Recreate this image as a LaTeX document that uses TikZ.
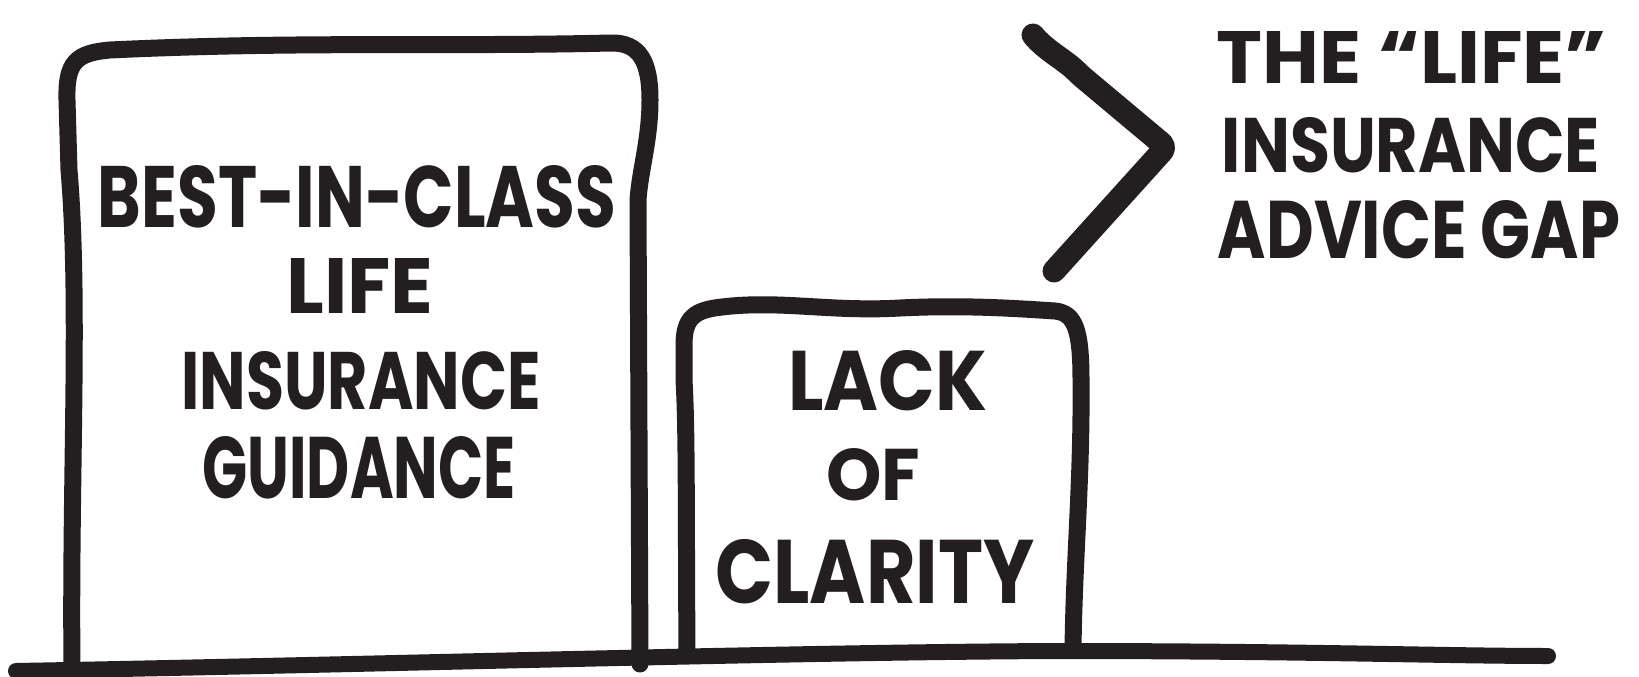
\documentclass[tikz,border=0pt]{standalone}
\usepackage{fontspec}
\usepackage{graphicx}
\newfontfamily\handfont{Poppins}
\definecolor{ink}{RGB}{35,31,32}
\newcommand{\fitline}[3]{\resizebox{#1pt}{#2pt}{\handfont\bfseries #3}}
\tikzset{
  stroke/.style={draw=ink, line width=17pt, line cap=round, line join=round},
  ground/.style={draw=ink, line width=16pt, line cap=round},
  chev/.style={draw=ink, line width=23pt, line cap=round, line join=round, rounded corners=6pt},
  lettering/.style={inner sep=0pt, outer sep=0pt, text=ink, anchor=center},
}
\begin{document}
\begin{tikzpicture}[x=1pt,y=-1pt]
\useasboundingbox[fill=white] (0,0) rectangle (1639,677);
% ground line
\draw[ground] (16,671) .. controls (400,664) and (800,652) .. (1060,651) .. controls (1300,651) and (1450,656) .. (1548,656);
% big box
\draw[stroke] (72,666) .. controls (70,480) and (80,300) .. (69,170) -- (67,100)
  .. controls (66,62) and (76,53) .. (110,50)
  .. controls (300,41) and (450,47) .. (610,43)
  .. controls (640,42) and (650,62) .. (650,100)
  .. controls (650,140) and (640,170) .. (638,200) -- (640,664);
% small box
\draw[stroke] (687,652) .. controls (686,520) and (687,430) .. (684,380) -- (684,345)
  .. controls (684,318) and (694,310) .. (722,307)
  .. controls (780,300) and (830,312) .. (900,308)
  .. controls (960,305) and (1010,308) .. (1055,311)
  .. controls (1075,313) and (1081,330) .. (1081,380)
  .. controls (1082,480) and (1074,560) .. (1073,650);
% chevron
\draw[chev] (1033,35) .. controls (1045,50) and (1065,60) .. (1080,75) -- (1166,147) -- (1054,271);
% texts in big box
\node[lettering] (t1) at (357,197) {\fitline{518}{62}{BEST-IN-CLASS}};
\node[lettering] (t2) at (360,286) {\fitline{147}{55}{LIFE}};
\node[lettering] (t3) at (361,381) {\fitline{359}{58}{INSURANCE}};
\node[lettering] (t4) at (359,468) {\fitline{313}{62}{GUIDANCE}};
% texts in small box
\node[lettering] (s1) at (888,381) {\fitline{199}{60}{LACK}};
\node[lettering] (s2) at (873,475) {\fitline{94}{52}{OF}};
\node[lettering] (s3) at (875,572) {\fitline{319}{64}{CLARITY}};
% title on right
\node[lettering] (r1) at (1412,57) {\fitline{390}{52}{THE “LIFE”}};
\node[lettering] (r2) at (1411,145) {\fitline{378}{55}{INSURANCE}};
\node[lettering] (r3) at (1419,230) {\fitline{402}{58}{ADVICE GAP}};
\end{tikzpicture}
\end{document}
